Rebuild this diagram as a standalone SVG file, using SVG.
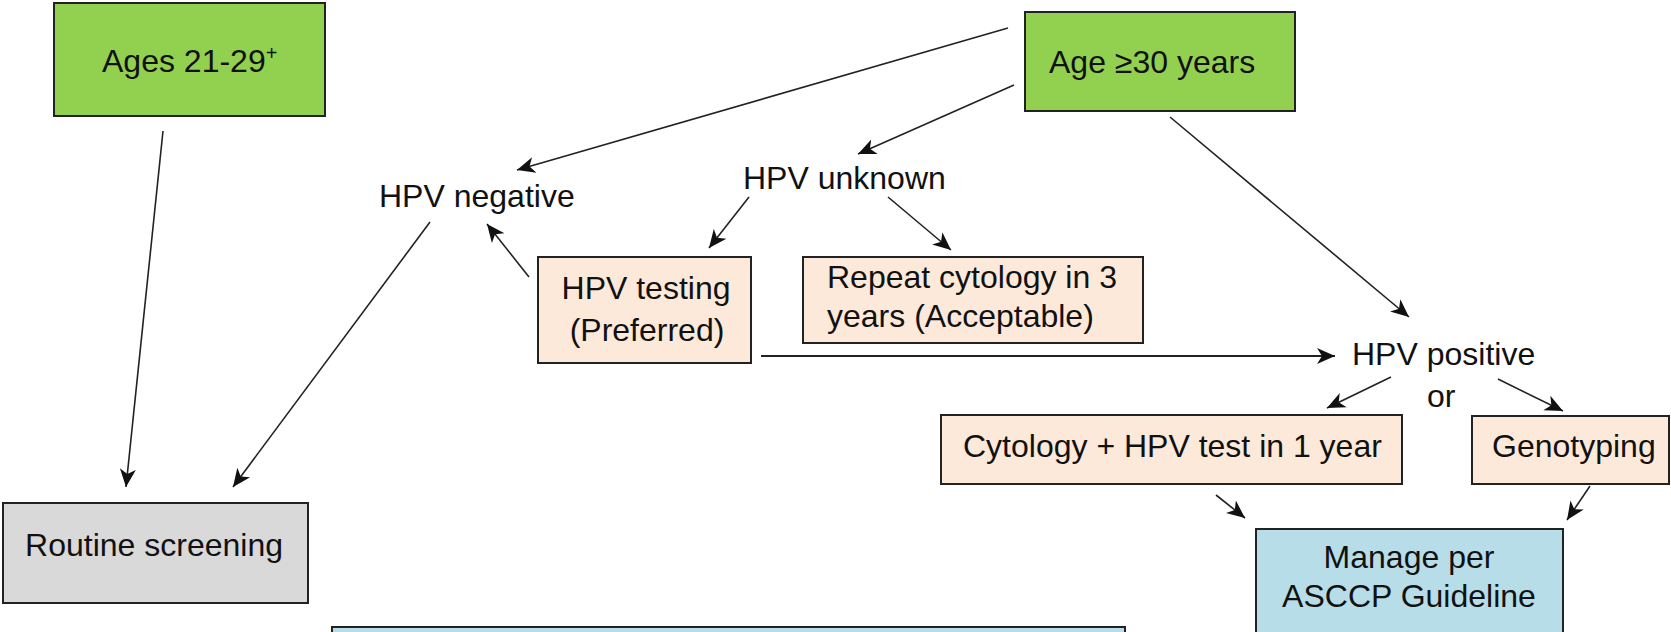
<svg xmlns="http://www.w3.org/2000/svg" width="1671" height="632" viewBox="0 0 1671 632">
<style>
text{font-family:"Liberation Sans",Arial,sans-serif;font-size:32px;fill:#111}
.box{stroke:#222;stroke-width:2}
.green{fill:#92D050}
.peach{fill:#FDE9D9}
.grey{fill:#D9D9D9}
.blue{fill:#B7DDE8}
.c{text-anchor:middle}
#connectors line{stroke:#222;stroke-width:1.6;fill:none;marker-end:url(#ah)}
</style>
<defs>
<marker id="ah" markerWidth="20" markerHeight="18" refX="18" refY="9" orient="auto" markerUnits="userSpaceOnUse">
<path d="M0,1 L18,9 L0,17 L5,9 z" fill="#111"/>
</marker>
</defs>
<rect width="1671" height="632" fill="#fff"/>
<g id="connectors">
<line x1="163" y1="131" x2="126" y2="487"/>
<line x1="430" y1="222" x2="233" y2="487"/>
<line x1="1008" y1="28" x2="517" y2="170"/>
<line x1="1014" y1="85" x2="858" y2="154"/>
<line x1="1170" y1="117" x2="1409" y2="317"/>
<line x1="749" y1="197" x2="709" y2="248"/>
<line x1="888" y1="197" x2="951" y2="250"/>
<line x1="529" y1="277" x2="487" y2="224"/>
<line x1="761" y1="356" x2="1335" y2="356" style="stroke-width:2.2"/>
<line x1="1391" y1="377" x2="1327" y2="408"/>
<line x1="1498" y1="379" x2="1563" y2="411"/>
<line x1="1216" y1="495" x2="1245" y2="518"/>
<line x1="1590" y1="486" x2="1567" y2="520"/>
</g>
<g id="ages2129">
<rect class="box green" x="54" y="3" width="271" height="113"/>
<text x="102" y="72">Ages 21-29<tspan font-size="20" dy="-12">+</tspan></text>
</g>
<g id="age30">
<rect class="box green" x="1025" y="12" width="270" height="99"/>
<text x="1049" y="73">Age ≥30 years</text>
</g>
<g id="hpvneg">
<text x="379" y="207">HPV negative</text>
</g>
<g id="hpvunk">
<text x="743" y="189">HPV unknown</text>
</g>
<g id="hpvtesting">
<rect class="box peach" x="538" y="257" width="213" height="106"/>
<text class="c" x="646" y="299">HPV testing</text>
<text class="c" x="647" y="341">(Preferred)</text>
</g>
<g id="repeat">
<rect class="box peach" x="803" y="257" width="340" height="86"/>
<text x="827" y="288">Repeat cytology in 3</text>
<text x="827" y="327">years (Acceptable)</text>
</g>
<g id="hpvpos">
<text x="1352" y="365">HPV positive</text>
<text x="1427" y="407">or</text>
</g>
<g id="cyto">
<rect class="box peach" x="941" y="415" width="461" height="69"/>
<text x="963" y="457">Cytology + HPV test in 1 year</text>
</g>
<g id="geno">
<rect class="box peach" x="1472" y="416" width="197" height="68"/>
<text x="1492" y="457">Genotyping</text>
</g>
<g id="manage">
<rect class="box blue" x="1256" y="529" width="307" height="120"/>
<text class="c" x="1409" y="568">Manage per</text>
<text class="c" x="1409" y="607">ASCCP Guideline</text>
</g>
<g id="routine">
<rect class="box grey" x="3" y="503" width="305" height="100"/>
<text class="c" x="154" y="556">Routine screening</text>
</g>
<g id="bottombox">
<rect class="box blue" x="332" y="627" width="793" height="20"/>
</g>
</svg>
